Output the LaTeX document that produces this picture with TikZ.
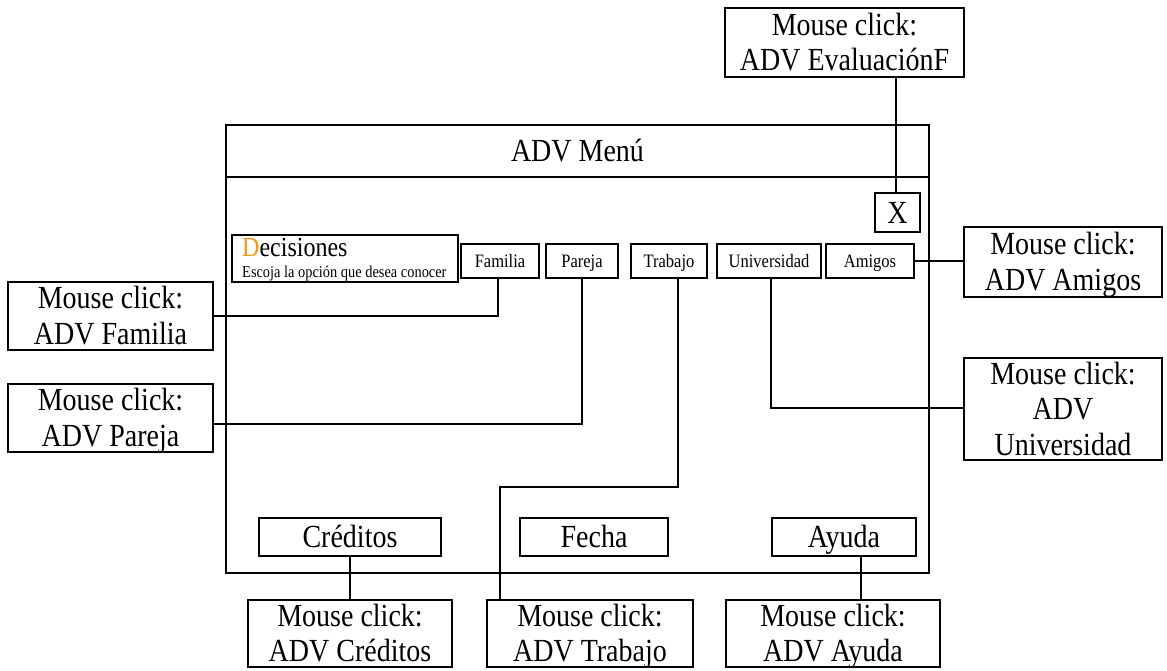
\documentclass[tikz,border=0pt]{standalone}
\usepackage{fontspec}
\usepackage{graphicx}
\setmainfont{Liberation Serif}
\definecolor{dorange}{RGB}{245,150,20}
% #1 = raise of first baseline relative to box centre, #2 = lines
\newcommand{\stx}[2]{\smash{\raisebox{#1}{\smash{\scalebox{1}[1.15]{\begin{tabular}[t]{@{}c@{}}#2\end{tabular}}}}}}
\newcommand{\bone}[1]{\stx{-10.66pt}{#1}}
\newcommand{\btwo}[1]{\stx{7.17pt}{#1}}
\newcommand{\bthree}[1]{\stx{25.0pt}{#1}}
\newcommand{\sone}[1]{\stx{-6.28pt}{#1}}
\tikzset{
  box/.style={draw, line width=1.3pt, inner sep=0pt, align=center, fill=white},
  big/.style={font=\fontsize{28}{31}\selectfont},
  small/.style={font=\fontsize{16.5}{19}\selectfont},
  conn/.style={line width=1.3pt}
}
\begin{document}
\begin{tikzpicture}[x=1pt,y=-1pt]
\useasboundingbox (0,0) rectangle (1167,671);
% window
\node[box, minimum width=703pt, minimum height=448pt] (win) at (577.5,349) {};
\node[box, big, minimum width=703pt, minimum height=52pt] (title) at (577.5,151) {\bone{ADV Menú}};
% coordinates for connector bends
\coordinate (trabA) at (678,278);
\coordinate (trabB) at (678,487);
\coordinate (trabC) at (500,487);
\coordinate (univA) at (771,278);
\coordinate (univB) at (771,408);
\coordinate (parB) at (582,424);
\coordinate (famB) at (498,316);
\coordinate (ayuA) at (861,556);
\coordinate (xA) at (896,193);
% X and evaluation
\node[box, big, minimum width=45pt, minimum height=39pt] (X) at (897.5,212.5) {\bone{X}};
\node[box, big, minimum width=239pt, minimum height=69pt] (mEval) at (844.5,42.5) {\btwo{Mouse click:\\ADV EvaluaciónF}};
% decisiones
\node[box, minimum width=226pt, minimum height=47pt] (dec) at (345,258.5) {};
\node[anchor=base west, inner sep=0pt, font=\fontsize{24}{26}\selectfont] (dectitle) at (242,256) {\scalebox{1}[1.15]{\textcolor{dorange}{D}ecisiones}};
\node[anchor=base west, inner sep=0pt, font=\fontsize{14.4}{16}\selectfont] (decsub) at (242,277.5) {\scalebox{1}[1.15]{Escoja la opción que desea conocer}};
% buttons
\node[box, small, minimum width=78pt, minimum height=34pt] (fam) at (500,261) {\sone{Familia}};
\node[box, small, minimum width=72pt, minimum height=34pt] (par) at (582,261) {\sone{Pareja}};
\node[box, small, minimum width=76pt, minimum height=34pt] (trab) at (669,261) {\sone{Trabajo}};
\node[box, small, minimum width=104pt, minimum height=34pt] (univ) at (769,261) {\sone{Universidad}};
\node[box, small, minimum width=88pt, minimum height=34pt] (amig) at (870,261) {\sone{Amigos}};
% bottom buttons
\node[box, big, minimum width=182pt, minimum height=38pt] (cred) at (350,537) {\bone{Créditos}};
\node[box, big, minimum width=148pt, minimum height=38pt] (fecha) at (594,537) {\bone{Fecha}};
\node[box, big, minimum width=144pt, minimum height=38pt] (ayu) at (844,537) {\bone{Ayuda}};
% mouse click boxes
\node[box, big, minimum width=198pt, minimum height=70pt] (mAmig) at (1063,262) {\btwo{Mouse click:\\ADV Amigos}};
\node[box, big, minimum width=198pt, minimum height=102pt] (mUniv) at (1063,409) {\bthree{Mouse click:\\ADV\\Universidad}};
\node[box, big, minimum width=205pt, minimum height=68pt] (mFam) at (110.5,316) {\btwo{Mouse click:\\ADV Familia}};
\node[box, big, minimum width=205pt, minimum height=68pt] (mPar) at (110.5,418) {\btwo{Mouse click:\\ADV Pareja}};
\node[box, big, minimum width=204pt, minimum height=67pt] (mCred) at (350,633.5) {\btwo{Mouse click:\\ADV Créditos}};
\node[box, big, minimum width=206pt, minimum height=67pt] (mTrab) at (590,633.5) {\btwo{Mouse click:\\ADV Trabajo}};
\node[box, big, minimum width=214pt, minimum height=67pt] (mAyu) at (833,633.5) {\btwo{Mouse click:\\ADV Ayuda}};
% connectors
\draw[conn] (mEval.south -| xA) -- (X.north -| xA);
\draw[conn] (fam.south -| famB) -- (famB) -- (mFam.east |- famB);
\draw[conn] (par.south) -- (parB) -- (mPar.east |- parB);
\draw[conn] (trabA) -- (trabB) -- (trabC) -- (mTrab.north -| trabC);
\draw[conn] (univA) -- (univB) -- (mUniv.west |- univB);
\draw[conn] (amig.east) -- (mAmig.west |- amig.east);
\draw[conn] (cred.south) -- (mCred.north -| cred.south);
\draw[conn] (ayuA) -- (mAyu.north -| ayuA);
\end{tikzpicture}
\end{document}
